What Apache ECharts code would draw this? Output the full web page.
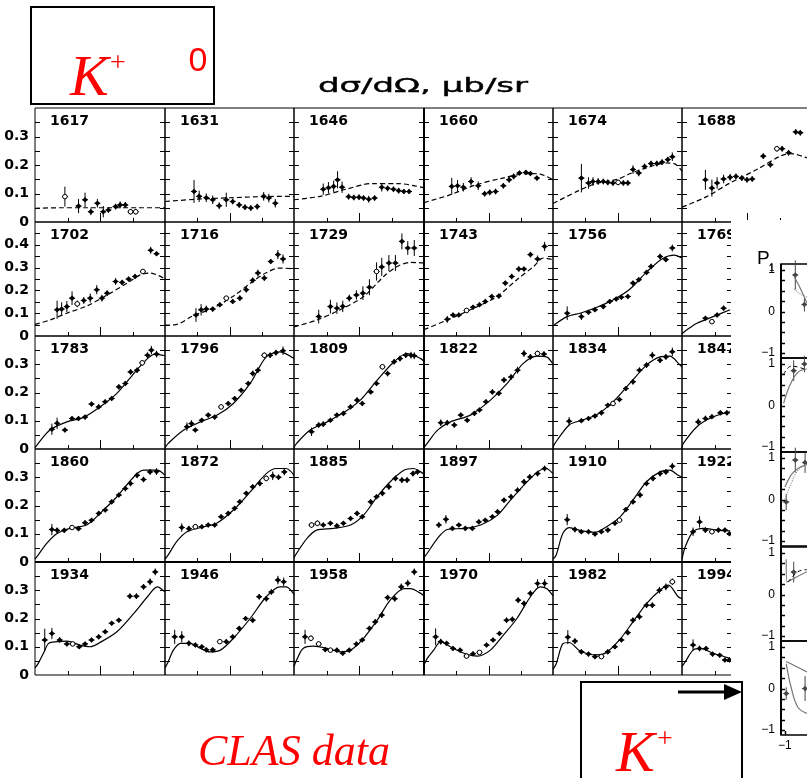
<!DOCTYPE html>
<html>
<head>
<meta charset="utf-8">
<script src="https://cdn.jsdelivr.net/npm/echarts@6/dist/echarts.min.js"></script>
<style>
html,body{margin:0;padding:0;background:#fff;}
#c{width:807px;height:778px;}
</style>
</head>
<body>
<div id="c"></div>
<script>
// Centre-of-mass energies W (MeV) of the 30 angular-distribution panels, row by row
const energies = [1617,1631,1646,1660,1674,1688,
                  1702,1716,1729,1743,1756,1769,
                  1783,1796,1809,1822,1834,1847,
                  1860,1872,1885,1897,1910,1922,
                  1934,1946,1958,1970,1982,1994];

// y-axis tick labels (μb/sr) and tick marks
const yLabelsLow  = [0, 0.1, 0.2, 0.3];
const yLabelsHigh = [0, 0.1, 0.2, 0.3, 0.4];
const yTicksLow   = [0.05, 0.1, 0.15, 0.2, 0.25, 0.3, 0.35];
const yTicksHigh  = [0.05, 0.1, 0.15, 0.2, 0.25, 0.3, 0.35, 0.4, 0.45];
// cos θ tick marks: short at ±0.5, long at 0
const xTicksShort = [-0.5, 0.5];
const xTicksLong  = [0];

// Model curves: [cos θ, dσ/dΩ]
const fit1617 = [[-1,0.048],[-0.6,0.05],[-0.2,0.05],[0.2,0.05],[0.6,0.05],[1,0.05]];
const fit1631 = [[-1,0.072],[-0.5,0.08],[0,0.085],[0.5,0.089],[1,0.09]];
const fit1646 = [[-1,0.078],[-0.6,0.09],[-0.2,0.115],[0.2,0.135],[0.6,0.135],[1,0.12]];
const fit1660 = [[-1,0.068],[-0.6,0.095],[-0.2,0.13],[0.2,0.153],[0.6,0.17],[0.8,0.168],[1,0.148]];
const fit1674 = [[-1,0.065],[-0.6,0.11],[-0.33,0.135],[0,0.15],[0.2,0.17],[0.45,0.19],[0.75,0.207],[0.88,0.205],[1,0.178]];
const fit1688 = [[-1,0.052],[-0.62,0.089],[-0.26,0.137],[0.15,0.184],[0.51,0.231],[0.67,0.24],[0.93,0.225],[1,0.22]];
const fit1702 = [[-1,0.051],[-0.77,0.07],[-0.51,0.1],[-0.2,0.132],[0.11,0.18],[0.42,0.232],[0.62,0.268],[0.78,0.276],[1,0.25]];
const fit1716 = [[-1,0.048],[-0.83,0.05],[-0.57,0.088],[-0.26,0.122],[0.05,0.173],[0.36,0.239],[0.56,0.276],[0.77,0.298],[1,0.295]];
const fit1729 = [[-1,0.04],[-0.65,0.07],[-0.29,0.115],[0.07,0.173],[0.38,0.261],[0.59,0.305],[0.79,0.323],[1,0.32]];
const fit1743 = [[-1,0.028],[-0.64,0.07],[-0.28,0.115],[0.13,0.173],[0.44,0.247],[0.7,0.305],[0.85,0.342],[1,0.335]];
const fit1756 = [[-1,0.045],[-0.78,0.085],[-0.58,0.1],[-0.33,0.125],[-0.07,0.158],[0.19,0.205],[0.45,0.28],[0.7,0.34],[0.88,0.355],[1,0.342]];
const fit1769 = [[-1,0.01],[-0.93,0.026],[-0.77,0.056],[-0.52,0.085],[-0.26,0.115]];
const fit1783 = [[-1,0.005],[-0.95,0.02],[-0.77,0.067],[-0.51,0.096],[-0.25,0.112],[0,0.149],[0.26,0.197],[0.52,0.267],[0.73,0.32],[0.85,0.336],[1,0.33]];
const fit1796 = [[-1,0.005],[-0.95,0.02],[-0.71,0.067],[-0.45,0.096],[-0.19,0.12],[0.06,0.161],[0.32,0.232],[0.57,0.326],[0.78,0.344],[1,0.32]];
const fit1809 = [[-1,0.005],[-0.96,0.02],[-0.75,0.067],[-0.49,0.096],[-0.24,0.128],[0.02,0.173],[0.28,0.244],[0.54,0.309],[0.74,0.338],[0.95,0.32],[1,0.31]];
const fit1822 = [[-1,0.005],[-0.95,0.02],[-0.79,0.067],[-0.59,0.096],[-0.28,0.12],[0.03,0.173],[0.29,0.232],[0.54,0.303],[0.75,0.329],[0.9,0.326],[1,0.3]];
const fit1834 = [[-1,0.005],[-0.97,0.02],[-0.75,0.085],[-0.58,0.1],[-0.33,0.12],[-0.07,0.167],[0.19,0.232],[0.45,0.297],[0.66,0.326],[0.81,0.329],[0.97,0.297],[1,0.29]];
const fit1847 = [[-1,0.005],[-0.98,0.02],[-0.77,0.079],[-0.52,0.114],[-0.26,0.132]];
const fit1860 = [[-1,0.01],[-0.95,0.025],[-0.82,0.066],[-0.66,0.101],[-0.46,0.119],[-0.2,0.132],[0,0.172],[0.26,0.231],[0.52,0.301],[0.67,0.325],[0.88,0.325],[1,0.307]];
const fit1872 = [[-1,0.01],[-0.95,0.025],[-0.82,0.072],[-0.66,0.107],[-0.45,0.122],[-0.2,0.137],[0.06,0.184],[0.32,0.248],[0.57,0.313],[0.73,0.331],[0.88,0.331],[1,0.307]];
const fit1885 = [[-1,0.015],[-0.96,0.031],[-0.8,0.084],[-0.65,0.113],[-0.39,0.119],[-0.13,0.131],[0.07,0.166],[0.28,0.231],[0.48,0.284],[0.69,0.325],[0.84,0.331],[0.95,0.319],[1,0.31]];
const fit1897 = [[-1,0.015],[-0.95,0.031],[-0.79,0.084],[-0.64,0.115],[-0.38,0.119],[-0.12,0.131],[0.14,0.166],[0.34,0.219],[0.55,0.272],[0.76,0.319],[0.89,0.331],[1,0.313]];
const fit1910 = [[-1,0.01],[-0.95,0.025],[-0.85,0.1],[-0.75,0.122],[-0.55,0.11],[-0.35,0.105],[-0.17,0.125],[0.04,0.16],[0.24,0.219],[0.45,0.284],[0.66,0.319],[0.81,0.325],[0.94,0.307],[1,0.3]];
const fit1922 = [[-1,0.01],[-0.95,0.054],[-0.83,0.107],[-0.67,0.119],[-0.46,0.113],[-0.26,0.11]];
const fit1934 = [[-1,0.025],[-0.95,0.041],[-0.87,0.077],[-0.79,0.112],[-0.66,0.118],[-0.51,0.12],[-0.31,0.106],[-0.15,0.1],[0,0.115],[0.26,0.153],[0.52,0.218],[0.73,0.277],[0.88,0.312],[1,0.294]];
const fit1946 = [[-1,0.025],[-0.95,0.047],[-0.87,0.088],[-0.76,0.112],[-0.61,0.112],[-0.45,0.094],[-0.3,0.082],[-0.14,0.088],[0.06,0.13],[0.32,0.2],[0.57,0.277],[0.78,0.312],[0.88,0.312],[1,0.285]];
const fit1958 = [[-1,0.03],[-0.96,0.053],[-0.86,0.094],[-0.7,0.102],[-0.49,0.094],[-0.29,0.082],[-0.13,0.088],[0.07,0.13],[0.28,0.194],[0.48,0.265],[0.69,0.306],[0.79,0.306],[0.95,0.289],[1,0.28]];
const fit1970 = [[-1,0.035],[-0.95,0.059],[-0.85,0.088],[-0.74,0.118],[-0.59,0.1],[-0.38,0.077],[-0.17,0.067],[0.03,0.088],[0.23,0.141],[0.44,0.2],[0.65,0.277],[0.8,0.312],[0.9,0.306],[1,0.28]];
const fit1982 = [[-1,0.02],[-0.95,0.04],[-0.85,0.11],[-0.75,0.115],[-0.58,0.085],[-0.33,0.071],[-0.17,0.08],[0.03,0.124],[0.24,0.188],[0.45,0.253],[0.66,0.3],[0.79,0.318],[0.94,0.277],[1,0.27]];
const fit1994 = [[-1,0.03],[-0.95,0.047],[-0.83,0.088],[-0.72,0.094],[-0.52,0.077],[-0.26,0.059]];

// Measured points: [cos θ, dσ/dΩ, error, open marker flag]
const pts1617 = [[-0.54,0.089,0.035,1],[-0.33,0.056,0.025],[-0.23,0.078,0.025],[-0.14,0.036,0.012],[-0.04,0.066,0.015],[0.05,0.036,0.02],[0.13,0.042,0.01],[0.24,0.054,0.01],[0.31,0.06,0.012],[0.39,0.06,0.01],[0.47,0.036,0.01,1],[0.55,0.036,0.01,1]];
const pts1631 = [[-0.55,0.107,0.04],[-0.47,0.09,0.02],[-0.36,0.085,0.015],[-0.26,0.078,0.015],[-0.16,0.057,0.012],[-0.05,0.078,0.025],[0.05,0.072,0.01],[0.15,0.06,0.01],[0.24,0.052,0.01],[0.33,0.049,0.01],[0.43,0.054,0.01],[0.53,0.09,0.015],[0.61,0.084,0.015],[0.71,0.066,0.015]];
const pts1646 = [[-0.55,0.115,0.02],[-0.47,0.12,0.02],[-0.39,0.125,0.02],[-0.33,0.148,0.03],[-0.26,0.122,0.02],[-0.16,0.089,0.01],[-0.08,0.086,0.01],[0,0.087,0.01],[0.07,0.084,0.01],[0.15,0.08,0.012],[0.24,0.084,0.01],[0.35,0.122,0.015],[0.44,0.118,0.01],[0.53,0.115,0.01],[0.61,0.11,0.01],[0.69,0.107,0.008],[0.77,0.107,0.008]];
const pts1660 = [[-0.57,0.125,0.03],[-0.48,0.127,0.02],[-0.39,0.122,0.015],[-0.27,0.142,0.015],[-0.16,0.127,0.015],[-0.06,0.099,0.01],[0.02,0.104,0.01],[0.11,0.107,0.01],[0.23,0.127,0.01],[0.32,0.148,0.01],[0.39,0.16,0.01],[0.48,0.172,0.008],[0.58,0.174,0.008],[0.65,0.17,0.008],[0.75,0.154,0.008]];
const pts1674 = [[-0.56,0.154,0.05],[-0.45,0.137,0.02],[-0.38,0.142,0.015],[-0.3,0.142,0.012],[-0.22,0.142,0.01],[-0.15,0.139,0.01],[-0.07,0.137,0.01],[0.01,0.139,0.01,1],[0.09,0.137,0.01],[0.16,0.137,0.01],[0.24,0.184,0.015],[0.33,0.172,0.012],[0.42,0.195,0.01],[0.52,0.205,0.01],[0.61,0.205,0.01],[0.69,0.21,0.01],[0.78,0.219,0.01],[0.85,0.229,0.015]];
const pts1688 = [[-0.64,0.148,0.035],[-0.54,0.119,0.03],[-0.46,0.137,0.02],[-0.36,0.151,0.015],[-0.26,0.157,0.012],[-0.17,0.16,0.01],[-0.08,0.154,0.01],[0,0.148,0.01],[0.08,0.151,0.01],[0.25,0.231,0.01],[0.36,0.201,0.01],[0.46,0.257,0.01,1],[0.54,0.257,0.01],[0.64,0.243,0.01],[0.75,0.316,0.01],[0.82,0.313,0.01]];
const pts1702 = [[-0.66,0.115,0.04],[-0.59,0.118,0.03],[-0.51,0.129,0.025],[-0.43,0.166,0.03],[-0.35,0.141,0.015,1],[-0.25,0.156,0.015],[-0.15,0.166,0.02],[-0.05,0.203,0.02],[0.03,0.166,0.015],[0.11,0.188,0.012],[0.24,0.239,0.015],[0.34,0.235,0.01],[0.44,0.25,0.01],[0.54,0.261,0.01],[0.66,0.283,0.01,1],[0.78,0.376,0.015],[0.87,0.361,0.01]];
const pts1716 = [[-0.52,0.092,0.03],[-0.44,0.115,0.025],[-0.36,0.118,0.015],[-0.26,0.118,0.01],[-0.15,0.137,0.01],[-0.05,0.166,0.01,1],[0.05,0.151,0.01],[0.16,0.166,0.012],[0.26,0.203,0.012],[0.36,0.244,0.012],[0.44,0.276,0.015],[0.54,0.254,0.012],[0.64,0.327,0.01],[0.75,0.357,0.02],[0.83,0.338,0.02]];
const pts1729 = [[-0.62,0.085,0.03],[-0.44,0.129,0.03],[-0.34,0.122,0.025],[-0.25,0.13,0.025],[-0.15,0.166,0.015],[-0.04,0.18,0.02],[0.06,0.188,0.03],[0.16,0.214,0.035],[0.27,0.283,0.04,1],[0.35,0.303,0.04],[0.46,0.32,0.035],[0.56,0.32,0.035],[0.66,0.415,0.035],[0.75,0.386,0.03],[0.85,0.386,0.035]];
const pts1743 = [[-0.64,0.073,0.015],[-0.55,0.092,0.01],[-0.46,0.092,0.01],[-0.34,0.112,0.01,1],[-0.24,0.126,0.01],[-0.14,0.137,0.01],[-0.05,0.151,0.01],[0.05,0.173,0.01],[0.16,0.175,0.01],[0.26,0.232,0.01],[0.36,0.261,0.012],[0.47,0.294,0.012],[0.55,0.294,0.01],[0.65,0.357,0.012],[0.76,0.338,0.015],[0.87,0.393,0.02]];
const pts1756 = [[-0.78,0.1,0.03],[-0.56,0.085,0.015],[-0.45,0.104,0.01],[-0.35,0.115,0.01],[-0.22,0.129,0.01],[-0.12,0.151,0.01],[-0.02,0.162,0.01],[0.06,0.17,0.01],[0.16,0.173,0.01],[0.24,0.232,0.01],[0.33,0.247,0.01],[0.45,0.279,0.01],[0.52,0.305,0.012],[0.66,0.349,0.012],[0.75,0.335,0.01],[0.85,0.386,0.015]];
const pts1769 = [[-0.64,0.078,0.01],[-0.54,0.063,0.01,1],[-0.46,0.092,0.01],[-0.36,0.122,0.012]];
const pts1783 = [[-0.74,0.07,0.02],[-0.66,0.091,0.02],[-0.54,0.067,0.008],[-0.43,0.108,0.008],[-0.33,0.108,0.008],[-0.23,0.113,0.008],[-0.13,0.159,0.008],[-0.02,0.149,0.008],[0.08,0.167,0.008],[0.18,0.179,0.008],[0.29,0.22,0.008],[0.39,0.232,0.008],[0.47,0.273,0.01],[0.57,0.279,0.01],[0.65,0.305,0.01,1],[0.73,0.332,0.01],[0.79,0.35,0.015],[0.87,0.336,0.012]];
const pts1796 = [[-0.66,0.079,0.015],[-0.59,0.09,0.012],[-0.53,0.067,0.008],[-0.43,0.102,0.008],[-0.33,0.12,0.008],[-0.23,0.113,0.008],[-0.13,0.149,0.008,1],[-0.02,0.161,0.008],[0.08,0.179,0.008],[0.18,0.208,0.008],[0.29,0.232,0.008],[0.36,0.267,0.01],[0.44,0.279,0.01],[0.54,0.332,0.01,1],[0.63,0.332,0.01],[0.72,0.341,0.01],[0.83,0.348,0.015]];
const pts1809 = [[-0.73,0.061,0.015],[-0.62,0.085,0.01],[-0.55,0.088,0.01],[-0.44,0.102,0.008],[-0.34,0.12,0.008],[-0.24,0.126,0.008],[-0.13,0.149,0.008],[-0.03,0.173,0.01],[0.05,0.161,0.008],[0.18,0.202,0.008],[0.27,0.232,0.008],[0.36,0.291,0.01,1],[0.44,0.267,0.01],[0.54,0.309,0.01],[0.63,0.32,0.01],[0.72,0.332,0.01],[0.8,0.332,0.012],[0.85,0.33,0.012]];
const pts1822 = [[-0.74,0.093,0.012],[-0.64,0.093,0.01],[-0.53,0.085,0.01],[-0.43,0.12,0.008],[-0.33,0.102,0.008],[-0.22,0.126,0.008],[-0.14,0.138,0.008],[-0.04,0.167,0.008],[0.06,0.202,0.01],[0.16,0.197,0.008],[0.24,0.244,0.01],[0.35,0.255,0.01],[0.45,0.279,0.012],[0.55,0.338,0.012],[0.65,0.326,0.01],[0.76,0.338,0.01,1],[0.86,0.336,0.01]];
const pts1834 = [[-0.75,0.098,0.015],[-0.56,0.1,0.008],[-0.45,0.108,0.008],[-0.35,0.117,0.008],[-0.25,0.128,0.008],[-0.15,0.155,0.008],[-0.07,0.161,0.008,1],[0.03,0.175,0.008],[0.13,0.214,0.008],[0.24,0.238,0.01],[0.34,0.279,0.01],[0.45,0.297,0.01],[0.54,0.332,0.012],[0.66,0.314,0.01],[0.75,0.326,0.01],[0.85,0.344,0.015]];
const pts1847 = [[-0.75,0.096,0.012],[-0.64,0.108,0.01],[-0.54,0.114,0.008],[-0.41,0.128,0.008],[-0.31,0.128,0.008]];
const pts1860 = [[-0.74,0.115,0.02],[-0.66,0.112,0.01],[-0.55,0.112,0.008],[-0.43,0.122,0.008,1],[-0.33,0.118,0.008],[-0.23,0.139,0.008],[-0.13,0.148,0.008],[-0.02,0.172,0.008],[0.08,0.184,0.008],[0.18,0.213,0.008],[0.29,0.237,0.008],[0.39,0.26,0.01],[0.47,0.278,0.01],[0.57,0.307,0.01],[0.67,0.292,0.01],[0.77,0.319,0.01],[0.87,0.32,0.012]];
const pts1872 = [[-0.74,0.122,0.015],[-0.63,0.118,0.01],[-0.53,0.125,0.008,1],[-0.43,0.125,0.008],[-0.33,0.131,0.008],[-0.23,0.131,0.008],[-0.13,0.16,0.008],[-0.02,0.172,0.008],[0.08,0.19,0.008],[0.16,0.213,0.008],[0.26,0.243,0.008],[0.36,0.266,0.008],[0.47,0.278,0.01],[0.57,0.296,0.01,1],[0.67,0.305,0.015],[0.76,0.3,0.01],[0.85,0.319,0.012]];
const pts1885 = [[-0.73,0.131,0.01,1],[-0.64,0.137,0.01,1],[-0.55,0.131,0.008],[-0.44,0.137,0.008],[-0.34,0.128,0.008],[-0.24,0.137,0.008],[-0.13,0.154,0.008],[-0.03,0.172,0.008],[0.05,0.16,0.008],[0.18,0.213,0.008],[0.27,0.231,0.008],[0.36,0.243,0.01],[0.46,0.266,0.01],[0.56,0.296,0.01],[0.66,0.29,0.01],[0.74,0.29,0.01],[0.83,0.313,0.01],[0.9,0.319,0.01]];
const pts1897 = [[-0.77,0.131,0.01],[-0.66,0.151,0.015],[-0.56,0.119,0.008],[-0.46,0.131,0.008],[-0.36,0.119,0.008],[-0.25,0.119,0.008],[-0.15,0.142,0.008],[-0.05,0.148,0.008],[0.06,0.16,0.008],[0.14,0.178,0.008],[0.24,0.219,0.008],[0.35,0.231,0.01],[0.45,0.254,0.01],[0.55,0.284,0.01],[0.64,0.301,0.01],[0.76,0.313,0.01],[0.87,0.331,0.01]];
const pts1910 = [[-0.78,0.15,0.02],[-0.66,0.115,0.01],[-0.56,0.107,0.008],[-0.45,0.107,0.008],[-0.35,0.099,0.008],[-0.25,0.107,0.008],[-0.15,0.113,0.008],[-0.04,0.137,0.008],[0.03,0.148,0.008,1],[0.13,0.186,0.008],[0.24,0.213,0.008],[0.35,0.237,0.01],[0.45,0.278,0.01],[0.55,0.296,0.01],[0.66,0.313,0.01],[0.75,0.319,0.01],[0.85,0.339,0.012]];
const pts1922 = [[-0.83,0.107,0.015],[-0.73,0.142,0.02],[-0.64,0.113,0.01],[-0.54,0.107,0.008,1],[-0.44,0.113,0.008],[-0.34,0.113,0.008],[-0.27,0.1,0.008]];
const pts1934 = [[-0.85,0.124,0.04],[-0.74,0.147,0.02],[-0.62,0.124,0.01],[-0.51,0.11,0.008],[-0.42,0.11,0.008,1],[-0.32,0.1,0.008],[-0.23,0.11,0.008],[-0.13,0.124,0.008],[-0.02,0.135,0.008],[0.08,0.153,0.008],[0.18,0.183,0.008],[0.29,0.194,0.008],[0.46,0.279,0.01],[0.56,0.279,0.01],[0.67,0.312,0.01],[0.77,0.33,0.012],[0.85,0.365,0.012]];
const pts1946 = [[-0.85,0.135,0.025],[-0.74,0.135,0.02],[-0.63,0.112,0.01],[-0.53,0.106,0.008],[-0.43,0.1,0.008],[-0.36,0.089,0.008],[-0.26,0.089,0.008],[-0.15,0.118,0.008,1],[-0.05,0.118,0.008],[0.05,0.135,0.008],[0.15,0.165,0.008],[0.25,0.2,0.008],[0.36,0.194,0.01],[0.46,0.277,0.01],[0.57,0.27,0.01],[0.65,0.294,0.01],[0.75,0.336,0.015],[0.84,0.33,0.015]];
const pts1958 = [[-0.83,0.135,0.025],[-0.74,0.13,0.01,1],[-0.62,0.11,0.008,1],[-0.52,0.09,0.008],[-0.44,0.088,0.008,1],[-0.34,0.088,0.008],[-0.25,0.077,0.008],[-0.15,0.088,0.008],[-0.04,0.11,0.008],[0.05,0.124,0.008],[0.16,0.165,0.008],[0.25,0.188,0.01],[0.35,0.212,0.01],[0.44,0.274,0.01],[0.55,0.27,0.01],[0.65,0.312,0.012],[0.75,0.325,0.012],[0.85,0.365,0.012]];
const pts1970 = [[-0.82,0.135,0.03],[-0.74,0.118,0.01],[-0.65,0.112,0.008],[-0.55,0.094,0.008],[-0.44,0.088,0.008],[-0.34,0.067,0.008,1],[-0.24,0.075,0.008],[-0.14,0.08,0.008,1],[-0.03,0.106,0.008],[0.07,0.124,0.008],[0.17,0.147,0.008],[0.28,0.194,0.01],[0.37,0.197,0.01],[0.46,0.265,0.01],[0.55,0.253,0.01],[0.65,0.289,0.01],[0.76,0.324,0.015],[0.87,0.324,0.015]];
const pts1982 = [[-0.77,0.134,0.025],[-0.66,0.12,0.01],[-0.56,0.082,0.008],[-0.45,0.074,0.008],[-0.35,0.065,0.008],[-0.25,0.065,0.008,1],[-0.15,0.082,0.008],[-0.04,0.1,0.008],[0.06,0.124,0.008],[0.16,0.15,0.008],[0.24,0.194,0.01],[0.34,0.206,0.01],[0.45,0.247,0.01],[0.54,0.247,0.01],[0.65,0.3,0.012],[0.75,0.312,0.012],[0.85,0.33,0.012,1]];
const pts1994 = [[-0.83,0.106,0.02],[-0.73,0.094,0.01],[-0.63,0.094,0.008],[-0.53,0.074,0.008],[-0.42,0.07,0.008],[-0.34,0.053,0.008],[-0.27,0.053,0.008]];

// Recoil polarization inset (P): points [cos θ, P, error] and model curves
const polPts1 = [[-0.84,0.88,0.35],[-0.70,0.17,0.17]];
const polFitA1 = [[-0.86,0.85],[-0.76,0.55],[-0.66,0.2]];
const polFitB1 = [[-0.86,0.55],[-0.76,0.42],[-0.66,0.35]];
const polPts2 = [[-0.865,0.84,0.25],[-0.7,1.0,0.2]];
const polFitA2 = [[-1.02,0.75],[-0.9,0.95],[-0.78,0.92],[-0.66,0.85]];
const polFitB2 = [[-1.02,0.05],[-0.92,0.5],[-0.8,0.8],[-0.66,0.88]];
const polPts3 = [[-0.98,-0.06,0.2],[-0.84,0.95,0.3],[-0.69,0.89,0.25]];
const polFitA3 = [[-1.0,0.3],[-0.9,0.6],[-0.8,0.75],[-0.66,0.85]];
const polFitB3 = [[-1.0,0.0],[-0.9,0.4],[-0.8,0.7],[-0.66,0.85]];
const polPts4 = [[-0.865,0.54,0.25]];
const polFitA4 = [[-0.98,0.85],[-0.97,0.3],[-0.85,0.4],[-0.66,0.55]];
const polFitB4 = [[-0.95,0.3],[-0.8,0.55],[-0.66,0.6]];
const polPts5 = [[-0.98,-0.12,0.15],[-0.69,0.0,0.3]];
const polFitA5 = [[-0.98,0.65],[-0.85,0.55],[-0.66,0.4]];
const polFitB5 = [[-0.98,0.6],[-0.9,0.0],[-0.8,-0.45],[-0.66,-0.6]];
const polTicks = [-1, -0.75, -0.5, -0.25, 0, 0.25, 0.5, 0.75, 1];
const polLabels = [-1, 0, 1];

const fits = [fit1617,fit1631,fit1646,fit1660,fit1674,fit1688,
              fit1702,fit1716,fit1729,fit1743,fit1756,fit1769,
              fit1783,fit1796,fit1809,fit1822,fit1834,fit1847,
              fit1860,fit1872,fit1885,fit1897,fit1910,fit1922,
              fit1934,fit1946,fit1958,fit1970,fit1982,fit1994];
const points = [pts1617,pts1631,pts1646,pts1660,pts1674,pts1688,
                pts1702,pts1716,pts1729,pts1743,pts1756,pts1769,
                pts1783,pts1796,pts1809,pts1822,pts1834,pts1847,
                pts1860,pts1872,pts1885,pts1897,pts1910,pts1922,
                pts1934,pts1946,pts1958,pts1970,pts1982,pts1994];
const polPanels = [
  {pts: polPts1, a: polFitA1, b: polFitB1, bStyle: 'dotted'},
  {pts: polPts2, a: polFitB2, b: polFitA2, bStyle: 'dashedBlack'},
  {pts: polPts3, a: polFitA3, b: polFitB3, bStyle: 'dotted'},
  {pts: polPts4, a: polFitA4, b: polFitB4, bStyle: 'dashedBlack'},
  {pts: polPts5, a: polFitA5, b: polFitB5, bStyle: 'solid'}
];

// ---------- layout of the panel matrix ----------
const colX = [35, 165, 294, 424, 553, 682];
const rowY = [108, 222, 336, 449, 562, 675];
const cutX = 732;            // right edge where the inset covers the last column
const FONT = '"DejaVu Sans", "Liberation Sans", sans-serif';

function pointRenderer(color) {
  return function (params, api) {
    const x = api.value(0), y = api.value(1), e = api.value(2), open = api.value(3);
    const p = api.coord([x, y]);
    const hi = api.coord([x, y + e]);
    const lo = api.coord([x, y - e]);
    const kids = [
      {type: 'line', shape: {x1: p[0], y1: hi[1], x2: p[0], y2: lo[1]}, style: {stroke: color, lineWidth: 1}},
      {type: 'line', shape: {x1: p[0] - 3, y1: p[1], x2: p[0] + 3, y2: p[1]}, style: {stroke: color, lineWidth: 1}}
    ];
    if (open) {
      kids.push({type: 'circle', shape: {cx: p[0], cy: p[1], r: 2.3}, style: {fill: '#fff', stroke: color, lineWidth: 1}});
    } else {
      const s = 2.8;
      kids.push({type: 'polygon', shape: {points: [[p[0], p[1] - s], [p[0] + s, p[1]], [p[0], p[1] + s], [p[0] - s, p[1]]]}, style: {fill: color}});
    }
    return {type: 'group', children: kids};
  };
}

const grid = [], xAxis = [], yAxis = [], series = [], graphic = [];
const plainAxis = {axisLine: {show: false, onZero: false}, axisTick: {show: false}, splitLine: {show: false}};
const tickJobs = [];   // per-panel tick descriptions, turned into marks once the scales exist

energies.forEach(function (w, i) {
  const r = Math.floor(i / 6), c = i % 6;
  const left = colX[c], top = rowY[r], height = rowY[r + 1] - rowY[r];
  const narrow = (c === 5 && r > 0);
  const width = c < 5 ? colX[c + 1] - left : (narrow ? cutX - left : 130);
  const xMax = narrow ? -1 + 2 * width / 130 : 1;
  const yMax = r === 1 ? 0.5 : 0.4;
  const g = grid.length;
  grid.push({left: left, top: top, width: width, height: height, show: true,
             borderColor: '#000', borderWidth: 1, backgroundColor: 'transparent',
             containLabel: false, outerBoundsMode: 'none'});
  const xi = xAxis.length;
  xAxis.push(Object.assign({gridIndex: g, type: 'value', position: 'bottom', min: -1, max: xMax,
                            axisLabel: {show: false}}, plainAxis));
  const yi = yAxis.length;
  yAxis.push(Object.assign({gridIndex: g, type: 'value', position: 'left', min: 0, max: yMax,
              axisLabel: {show: c === 0, customValues: r === 1 ? yLabelsHigh : yLabelsLow,
                          formatter: function (v) { return v === 0 ? '0' : v.toFixed(1); },
                          color: '#000', fontFamily: FONT, fontWeight: 'bold', fontSize: 14, margin: 6}},
              plainAxis));
  tickJobs.push({grid: g, xMin: -1, xMax: xMax, yMin: 0, yTicks: r === 1 ? yTicksHigh : yTicksLow,
                 xShort: xTicksShort.filter(function (v) { return v <= xMax; }),
                 xLong: xTicksLong.filter(function (v) { return v <= xMax; }),
                 yLen: 5, shortLen: 4, longLen: 9, both: true, width: 1, zlevel: 1});
  const dashed = i < 10;
  series.push({type: 'line', xAxisIndex: xi, yAxisIndex: yi, data: fits[i], smooth: 0.3,
               symbol: 'none', silent: true, animation: false, z: 2,
               lineStyle: {color: '#000', width: 1.2, type: dashed ? [5, 3] : 'solid'}});
  series.push({type: 'custom', xAxisIndex: xi, yAxisIndex: yi, animation: false, silent: true, z: 3,
               dimensions: ['x', 'y', 'e', 'o'], encode: {x: 0, y: 1},
               data: points[i].map(function (p) { return [p[0], p[1], p[2], p[3] || 0]; }),
               renderItem: pointRenderer('#000')});
  graphic.push({type: 'text', x: left + 15, y: top + 6, silent: true,
                style: {text: String(w), fontFamily: FONT, fontWeight: 'bold', fontSize: 14,
                        fill: '#000', align: 'left', verticalAlign: 'top'}});
});

// heavier frame lines of the matrix
graphic.push({type: 'line', shape: {x1: 424, y1: 108, x2: 424, y2: 675}, style: {stroke: '#000', lineWidth: 2}, silent: true});
graphic.push({type: 'line', shape: {x1: 35, y1: 562, x2: cutX, y2: 562}, style: {stroke: '#000', lineWidth: 2}, silent: true});

// ---------- polarization inset on the right ----------
const polTop = [264, 358, 452, 547, 641];
const polLeft = 781, polH = 94, polMin = -1.06, polW = 134, polYMin = -1.12, polYMax = 1.145;
graphic.push({type: 'rect', zlevel: 1, z: 50, silent: true, shape: {x: 731, y: 220, width: 80, height: 560}, style: {fill: '#fff'}});
polPanels.forEach(function (pp, k) {
  const g = grid.length;
  grid.push({left: polLeft, top: polTop[k], width: polW, height: polH, show: true, zlevel: 2,
             borderColor: '#000', borderWidth: 1.5, backgroundColor: 'transparent',
             containLabel: false, outerBoundsMode: 'none'});
  const xi = xAxis.length;
  xAxis.push({gridIndex: g, type: 'value', position: 'bottom', min: polMin, max: 1, zlevel: 2,
              axisLine: {show: false, onZero: false}, splitLine: {show: false}, axisTick: {show: false},
              axisLabel: {show: k === 4, customValues: [-1], formatter: function () { return '\u22121'; },
                          color: '#000', fontFamily: '"Liberation Sans", sans-serif', fontSize: 12, margin: 5}});
  const yi = yAxis.length;
  yAxis.push({gridIndex: g, type: 'value', position: 'left', min: polYMin, max: polYMax, zlevel: 2,
              axisLine: {show: false, onZero: false}, splitLine: {show: false}, axisTick: {show: false},
              axisLabel: {customValues: polLabels,
                          formatter: function (v) { return v < 0 ? '\u22121' : String(v); },
                          color: '#000', fontFamily: '"Liberation Sans", sans-serif', fontSize: 12, margin: 6}});
  tickJobs.push({grid: g, xMin: polMin, xMax: 1, yMin: polYMin, yTicks: polTicks,
                 xShort: k === 4 ? [-1] : [], xLong: k === 4 ? [-0.5] : [],
                 yLen: 4, shortLen: 4, longLen: 6, both: false, width: 1.5, zlevel: 3});
  series.push({type: 'line', xAxisIndex: xi, yAxisIndex: yi, data: pp.a, smooth: 0.4, symbol: 'none',
               zlevel: 2, silent: true, animation: false, lineStyle: {color: '#777', width: 1.2}});
  const bStyle = pp.bStyle === 'dashedBlack' ? {color: '#000', width: 1, type: [4, 3]}
               : pp.bStyle === 'dotted' ? {color: '#999', width: 1.2, type: 'dotted'}
               : {color: '#777', width: 1.2};
  series.push({type: 'line', xAxisIndex: xi, yAxisIndex: yi, data: pp.b, smooth: 0.4, symbol: 'none',
               zlevel: 2, silent: true, animation: false, lineStyle: bStyle});
  series.push({type: 'custom', xAxisIndex: xi, yAxisIndex: yi, zlevel: 2, silent: true, animation: false,
               dimensions: ['x', 'y', 'e', 'o'], encode: {x: 0, y: 1},
               data: pp.pts.map(function (p) { return [p[0], p[1], p[2], 0]; }),
               renderItem: pointRenderer('#444')});
});
// thick left spine of the inset
graphic.push({type: 'line', zlevel: 2, silent: true, shape: {x1: polLeft, y1: polTop[0], x2: polLeft, y2: polTop[4] + polH},
              style: {stroke: '#000', lineWidth: 2}});
graphic.push({type: 'text', zlevel: 2, x: 757, y: 259, silent: true,
              style: {text: 'P', fontFamily: '"Liberation Sans", sans-serif', fontSize: 19, fill: '#000', align: 'left', verticalAlign: 'middle'}});
graphic.push({type: 'text', zlevel: 2, x: 769, y: 268, silent: true,
              style: {text: '1', fontFamily: '"Liberation Sans", sans-serif', fontSize: 10, fill: '#000', align: 'left', verticalAlign: 'middle'}});

// ---------- titles and labels ----------
graphic.push({type: 'text', x: 423, y: 87, scaleX: 1.7, silent: true,
              style: {text: 'd\u03c3/d\u03a9, \u03bcb/sr', fontFamily: FONT, fontSize: 20, fill: '#000',
                      stroke: '#000', lineWidth: 0.4, align: 'center', verticalAlign: 'middle'}});
graphic.push({type: 'rect', silent: true, shape: {x: 31, y: 7, width: 183, height: 97},
              style: {fill: 'none', stroke: '#000', lineWidth: 2}});
graphic.push({type: 'text', x: 70, y: 80, silent: true,
              style: {text: 'K', fontFamily: '"Liberation Serif", serif', fontStyle: 'italic', fontSize: 58,
                      fill: '#f00', align: 'left', verticalAlign: 'middle'}});
graphic.push({type: 'text', x: 118, y: 64, silent: true,
              style: {text: '+', fontFamily: '"Liberation Serif", serif', fontSize: 28,
                      fill: '#f00', align: 'center', verticalAlign: 'middle'}});
graphic.push({type: 'text', x: 198, y: 62, silent: true,
              style: {text: '0', fontFamily: '"Liberation Sans", sans-serif', fontSize: 34,
                      fill: '#f00', align: 'center', verticalAlign: 'middle'}});
graphic.push({type: 'text', x: 198, y: 753, silent: true,
              style: {text: 'CLAS data', fontFamily: '"Liberation Serif", serif', fontStyle: 'italic', fontSize: 44,
                      fill: '#f00', align: 'left', verticalAlign: 'middle'}});
// lower box with arrow pointing at the inset
graphic.push({type: 'rect', zlevel: 2, silent: true, shape: {x: 581, y: 682, width: 161, height: 120},
              style: {fill: 'none', stroke: '#000', lineWidth: 2}});
graphic.push({type: 'line', zlevel: 2, silent: true, shape: {x1: 678, y1: 692, x2: 727, y2: 692},
              style: {stroke: '#000', lineWidth: 3}});
graphic.push({type: 'polygon', zlevel: 2, silent: true, shape: {points: [[724, 684], [742, 692], [724, 700]]},
              style: {fill: '#000'}});
graphic.push({type: 'text', zlevel: 2, x: 616, y: 756, silent: true,
              style: {text: 'K', fontFamily: '"Liberation Serif", serif', fontStyle: 'italic', fontSize: 58,
                      fill: '#f00', align: 'left', verticalAlign: 'middle'}});
graphic.push({type: 'text', zlevel: 2, x: 665, y: 740, silent: true,
              style: {text: '+', fontFamily: '"Liberation Serif", serif', fontSize: 28,
                      fill: '#f00', align: 'center', verticalAlign: 'middle'}});

const chart = echarts.init(document.getElementById('c'), null, {renderer: 'canvas'});
chart.setOption({
  animation: false,
  backgroundColor: '#fff',
  grid: grid,
  xAxis: xAxis,
  yAxis: yAxis,
  series: series,
  graphic: graphic
});

// Frame tick marks: positions come from each panel's scales via convertToPixel.
const tickMarks = [];
tickJobs.forEach(function (job) {
  const finder = {gridIndex: job.grid};
  const st = {stroke: '#000', lineWidth: job.width};
  job.yTicks.forEach(function (v) {
    const a = chart.convertToPixel(finder, [job.xMin, v]);
    const b = chart.convertToPixel(finder, [job.xMax, v]);
    if (!a || !b) return;
    const y = Math.round(a[1]) + 0.5;
    tickMarks.push({type: 'line', zlevel: job.zlevel, z: 1, silent: true,
                    shape: {x1: a[0], y1: y, x2: a[0] + job.yLen, y2: y}, style: st});
    if (job.both) {
      tickMarks.push({type: 'line', zlevel: job.zlevel, z: 1, silent: true,
                      shape: {x1: b[0] - job.yLen, y1: y, x2: b[0], y2: y}, style: st});
    }
  });
  [[job.xShort, job.shortLen], [job.xLong, job.longLen]].forEach(function (set) {
    set[0].forEach(function (v) {
      const q = chart.convertToPixel(finder, [v, job.yMin]);
      if (!q) return;
      const x = Math.round(q[0]) + 0.5;
      tickMarks.push({type: 'line', zlevel: job.zlevel, z: 1, silent: true,
                      shape: {x1: x, y1: q[1], x2: x, y2: q[1] - set[1]}, style: st});
    });
  });
});
chart.setOption({graphic: graphic.concat(tickMarks)});
</script>
</body>
</html>
